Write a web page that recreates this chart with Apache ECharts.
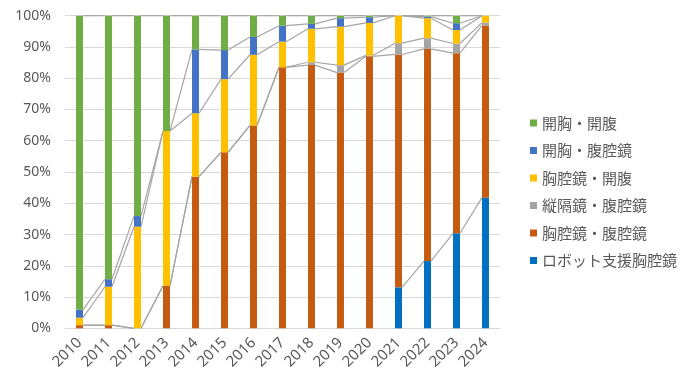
<!DOCTYPE html>
<html><head><meta charset="utf-8">
<script src="https://cdn.jsdelivr.net/npm/echarts@6/dist/echarts.min.js"></script>
<style>html,body{margin:0;padding:0;background:#fff}#c{width:700px;height:386px}</style>
</head><body><div id="c"></div>
<script>
const years = ['2010','2011','2012','2013','2014','2015','2016','2017','2018','2019','2020','2021','2022','2023','2024'];
const yTicks = [0,10,20,30,40,50,60,70,80,90,100];
// bottom-to-top stacking order
const robot  = [null,null,null,null,null,null,null,null,null,null,null,13.1,21.5,30.4,41.8];
const thLap  = [1.0,1.0,0,13.6,48.5,56.3,64.9,83.5,84.2,81.8,87.0,74.5,67.9,57.6,55.1];
const medLap = [0,0,0,0,0,0,0,0,0.9,2.4,0.3,3.6,3.4,3.1,0.9];
const thOpen = [2.4,12.3,32.5,49.5,20.3,23.4,22.6,8.2,10.7,12.3,10.4,8.8,6.4,4.3,2.2];
const opLap  = [2.5,2.4,3.4,0,20.4,9.3,5.7,5.1,1.6,2.7,1.8,0,0.5,2.2,0];
const opOpen = [94.1,84.3,64.1,36.9,10.8,11.0,6.8,3.2,2.6,0.8,0.5,0,0.3,2.4,0];

const names = ['ロボット支援胸腔鏡','胸腔鏡・腹腔鏡','縦隔鏡・腹腔鏡','胸腔鏡・開腹','開胸・腹腔鏡','開胸・開腹'];
const colors = ['#0070C0','#C55A11','#A5A5A5','#FFC000','#4472C4','#70AD47'];
const seriesData = [robot, thLap, medLap, thOpen, opLap, opOpen];

const BW = 0.24;
const series = [];
seriesData.forEach((d,k)=>{
  series.push({name:names[k], type:'bar', stack:'all', data:d, barWidth:(BW*100)+'%',
    itemStyle:{color:colors[k]}, z:3});
});
// series lines (cumulative tops)
const cum = years.map(()=>0);
seriesData.forEach((d,k)=>{
  const tops = d.map((v,i)=> v==null ? null : (cum[i] += v));
  const segs = [];
  for(let i=0;i<years.length-1;i++){
    if(tops[i]!=null && tops[i+1]!=null) segs.push([i, tops[i], tops[i+1]]);
  }
  series.push({type:'custom', data:segs, z:2, silent:true,
    encode:{x:0,y:[1,2]},
    renderItem:(params, api)=>{
      const i = api.value(0);
      const p1 = api.coord([i, api.value(1)]);
      const p2 = api.coord([i+1, api.value(2)]);
      const bw = api.size([1,0])[0]*BW;
      return {type:'line', shape:{x1:p1[0]+bw/2, y1:p1[1], x2:p2[0]-bw/2, y2:p2[1]},
        style:{stroke:'#A5A5A5', lineWidth:1.2}};
    }});
});

const chart = echarts.init(document.getElementById('c'));
chart.setOption({
  animation:false,
  textStyle:{fontFamily:'"Noto Sans","Noto Sans CJK JP",sans-serif'},
  grid:{left:65, right:200, top:15.7, bottom:57.7},
  legend:{orient:'vertical', left:525, top:110, itemWidth:7, itemHeight:7, itemGap:11.5,
    icon:'rect', data:names.slice().reverse(),
    textStyle:{fontSize:15, lineHeight:16, color:'#595959', fontFamily:'"Noto Sans CJK JP",sans-serif'}},
  xAxis:{type:'category', data:years,
    axisLine:{lineStyle:{color:'#D9D9D9', width:1}}, axisTick:{show:false},
    axisLabel:{rotate:45, fontSize:15, color:'#595959', margin:12, interval:0}},
  yAxis:{type:'value', min:yTicks[0], max:yTicks[yTicks.length-1], interval:10,
    axisLine:{show:false}, axisTick:{show:false},
    splitLine:{lineStyle:{color:'#D9D9D9', width:1}},
    axisLabel:{formatter:'{value}%', fontSize:14, color:'#595959', margin:14}},
  series
});
</script></body></html>
